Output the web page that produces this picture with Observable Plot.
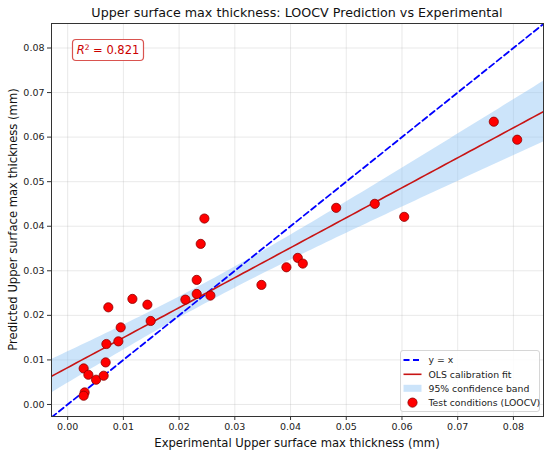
<!DOCTYPE html>
<html>
<head>
<meta charset="utf-8">
<script src="https://cdn.jsdelivr.net/npm/d3@7"></script>
<script src="https://cdn.jsdelivr.net/npm/@observablehq/plot@0.6"></script>
<style>
  html, body { margin: 0; padding: 0; background: #fff; }
  #chart { width: 550px; height: 456px; }
</style>
</head>
<body>
<div id="chart"></div>
<script>
// ---- data ----
const experimental = [0.00287, 0.00305, 0.00287, 0.00372, 0.0051, 0.00646, 0.00682, 0.00695, 0.0073, 0.0091,
  0.00952, 0.01162, 0.01431, 0.0149, 0.02113, 0.02316, 0.02316, 0.02388, 0.02562, 0.03478,
  0.02454, 0.03926, 0.0413, 0.0422, 0.04819, 0.05512, 0.0604, 0.07648, 0.08068];
const predicted = [0.00809, 0.0027, 0.00196, 0.00667, 0.00555, 0.00645, 0.00944, 0.01357, 0.0218, 0.01416,
  0.0173, 0.02369, 0.0224, 0.01874, 0.02353, 0.02796, 0.0248, 0.03604, 0.02443, 0.02683,
  0.04173, 0.03079, 0.0329, 0.03162, 0.04413, 0.04503, 0.04211, 0.06346, 0.05942];
const xDomain = [-0.0029, 0.0854];
const yDomain = [-0.0027, 0.0855];
const xTicks = [0, 0.01, 0.02, 0.03, 0.04, 0.05, 0.06, 0.07, 0.08];
const yTicks = [0, 0.01, 0.02, 0.03, 0.04, 0.05, 0.06, 0.07, 0.08];
const r2Label = "0.821";
const titleText = "Upper surface max thickness: LOOCV Prediction vs Experimental";
const xLabel = "Experimental Upper surface max thickness (mm)";
const yLabel = "Predicted Upper surface max thickness (mm)";
const legendLabels = ["y = x", "OLS calibration fit", "95% confidence band", "Test conditions (LOOCV)"];
const tCrit = 2.052; // t(0.975, n-2 = 27)

// ---- derived tables ----
const points = experimental.map((x, i) => ({x, y: predicted[i]}));
const n = points.length;
const xbar = d3.mean(experimental), ybar = d3.mean(predicted);
const Sxx = d3.sum(experimental, x => (x - xbar) ** 2);
const Sxy = d3.sum(points, p => (p.x - xbar) * (p.y - ybar));
const slope = Sxy / Sxx, intercept = ybar - slope * xbar;
const sse = d3.sum(points, p => (p.y - (intercept + slope * p.x)) ** 2);
const s = Math.sqrt(sse / (n - 2));
const grid = d3.range(0, 101).map(i => xDomain[0] + (xDomain[1] - xDomain[0]) * i / 100);
const band = grid.map(x => {
  const yh = intercept + slope * x;
  const h = tCrit * s * Math.sqrt(1 / n + (x - xbar) ** 2 / Sxx);
  return {x, y: yh, lo: yh - h, hi: yh + h};
});
const identity = [{v: Math.min(xDomain[0], yDomain[0])}, {v: Math.max(xDomain[1], yDomain[1])}];

const W = 550, H = 456;
const mL = 51, mR = 7, mT = 23, mB = 40;
const font = "DejaVu Sans, sans-serif";

const chart = Plot.plot({
  width: W, height: H,
  marginLeft: mL, marginRight: mR, marginTop: mT, marginBottom: mB,
  style: {fontFamily: font, fontSize: "9.5px", color: "#222", background: "#fff"},
  x: {domain: xDomain, label: null},
  y: {domain: yDomain, label: null},
  marks: [
    Plot.gridX(xTicks, {stroke: "#b0b0b0", strokeOpacity: 0.35, strokeWidth: 0.8}),
    Plot.gridY(yTicks, {stroke: "#b0b0b0", strokeOpacity: 0.35, strokeWidth: 0.8}),
    Plot.areaY(band, {x: "x", y1: "lo", y2: "hi", fill: "#8fc3f5", fillOpacity: 0.45, clip: true}),
    Plot.line(identity, {x: "v", y: "v", stroke: "#0000ff", strokeWidth: 1.8, strokeDasharray: "6,3.5", clip: true}),
    Plot.line(band, {x: "x", y: "y", stroke: "#c81414", strokeWidth: 1.6, clip: true}),
    Plot.dot(points, {x: "x", y: "y", r: 4.6, fill: "#ff0000", stroke: "#8b0000", strokeWidth: 0.8}),
    Plot.frame({stroke: "#333", strokeWidth: 1}),
    Plot.axisX(xTicks, {tickFormat: d3.format(".2f"), tickSize: 4, tickPadding: 3, stroke: "#333"}),
    Plot.axisY(yTicks, {tickFormat: d3.format(".2f"), tickSize: 4, tickPadding: 3, stroke: "#333"})
  ]
});
document.getElementById("chart").appendChild(chart);

// ---- annotations (title, labels, R² box, legend) ----
const svg = d3.select(chart);
const cx = (mL + (W - mR)) / 2, cy = (mT + (H - mB)) / 2;
svg.append("text").attr("x", cx).attr("y", 17).attr("text-anchor", "middle")
  .attr("font-family", font).attr("font-size", 12.7).attr("fill", "#111").text(titleText);
svg.append("text").attr("x", cx).attr("y", 446.5).attr("text-anchor", "middle")
  .attr("font-family", font).attr("font-size", 11.6).attr("fill", "#111").text(xLabel);
svg.append("text").attr("transform", `translate(16.5,${cy}) rotate(-90)`).attr("text-anchor", "middle")
  .attr("font-family", font).attr("font-size", 11.6).attr("fill", "#111").text(yLabel);

// R² box
svg.append("rect").attr("x", 72.5).attr("y", 39.5).attr("width", 71).attr("height", 21).attr("rx", 3.5)
  .attr("fill", "#fff").attr("fill-opacity", 0.9).attr("stroke", "#d9534f").attr("stroke-width", 1.2);
const rt = svg.append("text").attr("x", 108).attr("y", 54.3).attr("text-anchor", "middle")
  .attr("font-family", font).attr("font-size", 11.5).attr("fill", "#cc0000");
rt.append("tspan").attr("font-style", "italic").text("R");
rt.append("tspan").attr("font-size", 7.5).attr("dy", -4.5).text("2");
rt.append("tspan").attr("dy", 4.5).text(" = " + r2Label);

// legend
const lg = svg.append("g");
lg.append("rect").attr("x", 400.5).attr("y", 350.5).attr("width", 139).attr("height", 61).attr("rx", 2.5)
  .attr("fill", "#fff").attr("fill-opacity", 0.85).attr("stroke", "#ccc").attr("stroke-width", 0.8);
const rows = [360, 374.3, 388.3, 402.6];
lg.append("line").attr("x1", 403.5).attr("x2", 421.5).attr("y1", rows[0]).attr("y2", rows[0])
  .attr("stroke", "#0000ff").attr("stroke-width", 1.8).attr("stroke-dasharray", "6,3.5");
lg.append("line").attr("x1", 403.5).attr("x2", 421.5).attr("y1", rows[1]).attr("y2", rows[1])
  .attr("stroke", "#c81414").attr("stroke-width", 1.6);
lg.append("rect").attr("x", 403.5).attr("y", rows[2] - 3.5).attr("width", 18).attr("height", 7)
  .attr("fill", "#8fc3f5").attr("fill-opacity", 0.45);
lg.append("circle").attr("cx", 412.5).attr("cy", rows[3]).attr("r", 4.6)
  .attr("fill", "#ff0000").attr("stroke", "#8b0000").attr("stroke-width", 0.8);
legendLabels.forEach((t, i) => {
  lg.append("text").attr("x", 428.5).attr("y", rows[i] + 3.3).attr("text-anchor", "start")
    .attr("font-family", font).attr("font-size", 9.3).attr("fill", "#222").text(t);
});
</script>
</body>
</html>
